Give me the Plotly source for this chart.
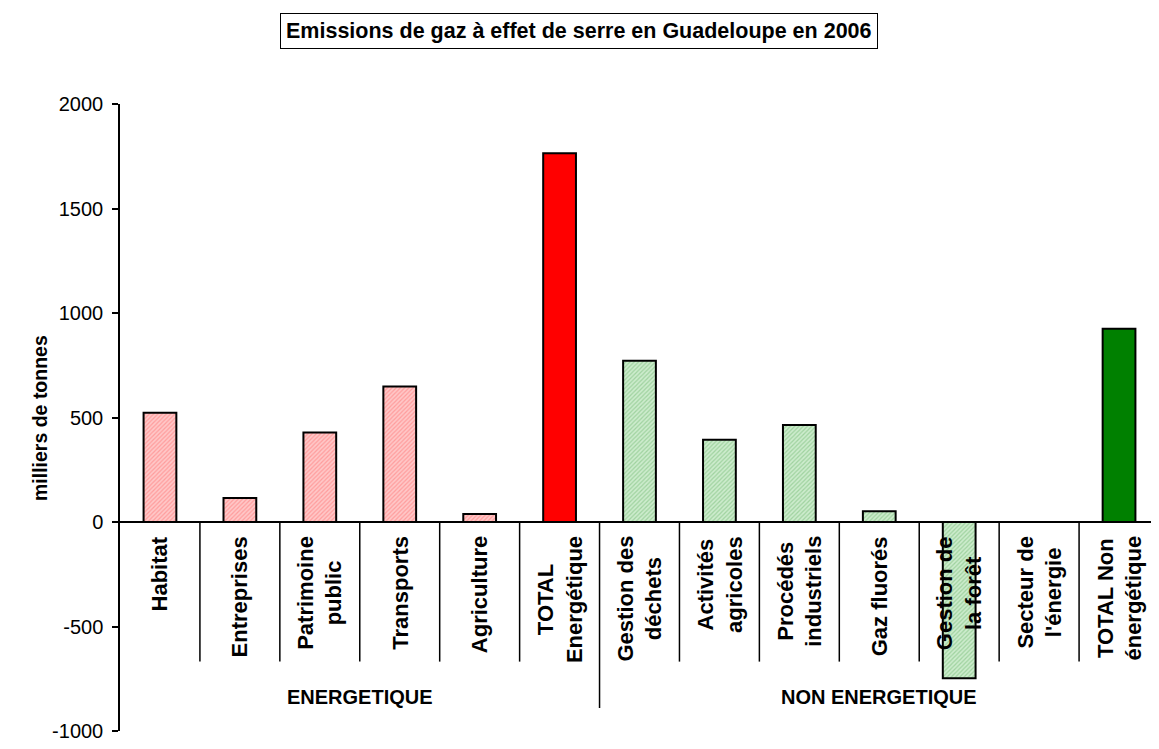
import plotly.graph_objects as go

# ---- data ----
categories = ["Habitat", "Entreprises", "Patrimoine public", "Transports", "Agriculture",
              "TOTAL Energétique", "Gestion des déchets", "Activités agricoles",
              "Procédés industriels", "Gaz fluorés", "Gestion de la forêt",
              "Secteur de l'énergie", "TOTAL Non énergétique"]
labels = ["Habitat", "Entreprises", "Patrimoine<br>public", "Transports", "Agriculture",
          "TOTAL<br>Energétique", "Gestion des<br>déchets", "Activités<br>agricoles",
          "Procédés<br>industriels", "Gaz fluorés", "Gestion de<br>la forêt",
          "Secteur de<br>l'énergie", "TOTAL Non<br>énergétique"]
values = [523, 115, 428, 648, 38, 1764, 772, 394, 464, 51, -748, 0, 925]
groups = ["ENERGETIQUE", "NON ENERGETIQUE"]
group_sizes = [6, 7]
title_text = "Emissions de gaz à effet de serre en Guadeloupe en 2006"
y_title = "milliers de tonnes"
y_ticks = [-1000, -500, 0, 500, 1000, 1500, 2000]

FONT = "Liberation Sans, Arial, sans-serif"

# ---- styles ----
STYLES = {
    "pink": dict(bg="#ffc8c8", fg="#ff9c9c", shape="/"),
    "green": dict(bg="#cdeccd", fg="#9fd29f", shape="/"),
    "red": dict(bg="#ff0000", fg="#ff0000", shape=""),
    "dkgreen": dict(bg="#008000", fg="#008000", shape=""),
}
kinds = []
for i, c in enumerate(categories):
    if c == "TOTAL Energétique":
        kinds.append("red")
    elif c == "TOTAL Non énergétique":
        kinds.append("dkgreen")
    elif i < group_sizes[0]:
        kinds.append("pink")
    else:
        kinds.append("green")

fig = go.Figure()
for kind, st in STYLES.items():
    xs = [c for c, k in zip(categories, kinds) if k == kind]
    ys = [v for v, k in zip(values, kinds) if k == kind]
    pattern = dict(shape=st["shape"], bgcolor=st["bg"], fgcolor=st["fg"],
                   size=3, solidity=0.4, fillmode="replace") if st["shape"] else None
    fig.add_trace(go.Bar(
        x=xs, y=ys,
        marker=dict(color=st["bg"], line=dict(color="black", width=2),
                    pattern=pattern),
        width=0.41, showlegend=False, hoverinfo="x+y",
    ))

shapes = []
n = len(categories)
for k in range(n - 1):
    xb = k + 0.5
    y_end = -890 if k == group_sizes[0] - 1 else -668
    shapes.append(dict(type="line", xref="x", yref="y", x0=xb, x1=xb, y0=0, y1=y_end,
                       line=dict(color="black", width=1.5), layer="below"))

annotations = []
for c, lab in zip(categories, labels):
    annotations.append(dict(x=c, y=0, xref="x", yref="y", text="<b>" + lab + "</b>",
                            textangle=-90, showarrow=False, xanchor="center", yanchor="top",
                            yshift=-12, align="center",
                            font=dict(family=FONT, size=22, color="black")))

start = 0
for g, sz in zip(groups, group_sizes):
    center = start + (sz - 1) / 2
    annotations.append(dict(x=center, y=-836, xref="x", yref="y", text="<b>" + g + "</b>",
                            showarrow=False, xanchor="center", yanchor="middle",
                            font=dict(family=FONT, size=20, color="black")))
    start += sz

# title box
annotations.append(dict(x=(579 - 120) / 1039, y=(731 - 31) / 627, xref="paper", yref="paper",
                        text="<b>" + title_text + "</b>", showarrow=False,
                        xanchor="center", yanchor="middle",
                        bordercolor="black", borderwidth=1, borderpad=5,
                        font=dict(family=FONT, size=21.5, color="black")))
# y-axis title
annotations.append(dict(x=(40 - 120) / 1039, y=(731 - 418) / 627, xref="paper", yref="paper",
                        text="<b>" + y_title + "</b>", textangle=-90, showarrow=False,
                        xanchor="center", yanchor="middle",
                        font=dict(family=FONT, size=19.5, color="black")))

# page body has an 8px margin; figure is offset accordingly
fig.update_layout(
    width=1151, height=741,
    margin=dict(l=112, r=0, t=96, b=18),
    paper_bgcolor="white", plot_bgcolor="white",
    barmode="overlay",
    shapes=shapes, annotations=annotations,
    xaxis=dict(type="category", categoryorder="array", categoryarray=categories,
               range=[-0.5, n - 0.5], showticklabels=False,
               showgrid=False, zeroline=False, showline=False, ticks=""),
    yaxis=dict(range=[-1000, 2000], tickvals=y_ticks, ticktext=[str(v) for v in y_ticks],
               ticks="outside", ticklen=6, tickwidth=1.5, tickcolor="black",
               showline=True, linecolor="black", linewidth=1.5, showgrid=False,
               zeroline=True, zerolinecolor="black", zerolinewidth=2,
               tickfont=dict(family=FONT, size=20, color="black"),
               ticklabelstandoff=5),
)

fig.write_html("out.html")
